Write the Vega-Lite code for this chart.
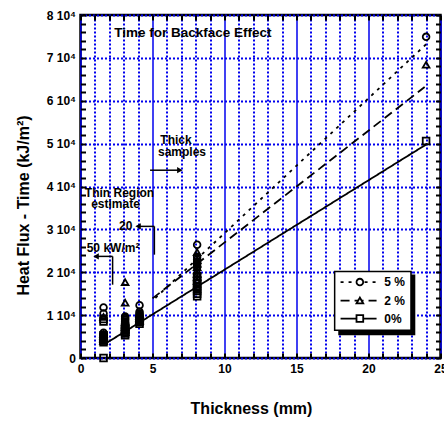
{
  "$schema": "https://vega.github.io/schema/vega-lite/v6.json",
  "width": 360,
  "height": 343,
  "autosize": {"type": "none"},
  "padding": {"left": 80.5, "top": 15, "right": 3.5, "bottom": 64},
  "background": "white",
  "config": {
    "font": "Liberation Sans",
    "view": {"stroke": "black", "strokeWidth": 2.5},
    "axis": {
      "labelFont": "Liberation Sans",
      "labelFontWeight": "bold",
      "labelFontSize": 12,
      "labelColor": "black",
      "titleFont": "Liberation Sans",
      "titleFontWeight": "bold",
      "titleFontSize": 16,
      "titleColor": "black",
      "tickColor": "black",
      "tickWidth": 2,
      "domain": false,
      "labelOverlap": false,
      "labelFlush": false
    }
  },
  "datasets": {
    "points": [
      {"series": "5 %", "thickness": 1.6, "flux": 11800},
      {"series": "5 %", "thickness": 1.6, "flux": 10400},
      {"series": "5 %", "thickness": 1.6, "flux": 5900},
      {"series": "5 %", "thickness": 1.6, "flux": 5500},
      {"series": "5 %", "thickness": 1.6, "flux": 5100},
      {"series": "5 %", "thickness": 1.6, "flux": 4700},
      {"series": "5 %", "thickness": 1.6, "flux": 4300},
      {"series": "5 %", "thickness": 3.1, "flux": 9700},
      {"series": "5 %", "thickness": 3.1, "flux": 9300},
      {"series": "5 %", "thickness": 3.1, "flux": 8900},
      {"series": "5 %", "thickness": 3.1, "flux": 8500},
      {"series": "5 %", "thickness": 3.1, "flux": 8100},
      {"series": "5 %", "thickness": 3.1, "flux": 7700},
      {"series": "5 %", "thickness": 4.1, "flux": 12300},
      {"series": "5 %", "thickness": 4.1, "flux": 10800},
      {"series": "5 %", "thickness": 4.1, "flux": 10400},
      {"series": "5 %", "thickness": 4.1, "flux": 10000},
      {"series": "5 %", "thickness": 4.1, "flux": 9600},
      {"series": "5 %", "thickness": 8.1, "flux": 26400},
      {"series": "5 %", "thickness": 8.1, "flux": 23600},
      {"series": "5 %", "thickness": 8.1, "flux": 23000},
      {"series": "5 %", "thickness": 8.1, "flux": 22400},
      {"series": "5 %", "thickness": 8.1, "flux": 21800},
      {"series": "5 %", "thickness": 8.1, "flux": 21200},
      {"series": "5 %", "thickness": 24, "flux": 74900},
      {"series": "2 %", "thickness": 1.6, "flux": 9600},
      {"series": "2 %", "thickness": 1.6, "flux": 5600},
      {"series": "2 %", "thickness": 1.6, "flux": 5200},
      {"series": "2 %", "thickness": 1.6, "flux": 4800},
      {"series": "2 %", "thickness": 1.6, "flux": 4400},
      {"series": "2 %", "thickness": 1.6, "flux": 4000},
      {"series": "2 %", "thickness": 3.1, "flux": 17700},
      {"series": "2 %", "thickness": 3.1, "flux": 12900},
      {"series": "2 %", "thickness": 3.1, "flux": 8400},
      {"series": "2 %", "thickness": 3.1, "flux": 8000},
      {"series": "2 %", "thickness": 3.1, "flux": 7600},
      {"series": "2 %", "thickness": 3.1, "flux": 7200},
      {"series": "2 %", "thickness": 3.1, "flux": 6800},
      {"series": "2 %", "thickness": 3.1, "flux": 6400},
      {"series": "2 %", "thickness": 3.1, "flux": 6000},
      {"series": "2 %", "thickness": 4.1, "flux": 10200},
      {"series": "2 %", "thickness": 4.1, "flux": 9800},
      {"series": "2 %", "thickness": 4.1, "flux": 9400},
      {"series": "2 %", "thickness": 4.1, "flux": 9000},
      {"series": "2 %", "thickness": 4.1, "flux": 8600},
      {"series": "2 %", "thickness": 8.1, "flux": 24700},
      {"series": "2 %", "thickness": 8.1, "flux": 22800},
      {"series": "2 %", "thickness": 8.1, "flux": 22000},
      {"series": "2 %", "thickness": 8.1, "flux": 21200},
      {"series": "2 %", "thickness": 8.1, "flux": 20400},
      {"series": "2 %", "thickness": 8.1, "flux": 19600},
      {"series": "2 %", "thickness": 8.1, "flux": 18800},
      {"series": "2 %", "thickness": 8.1, "flux": 18000},
      {"series": "2 %", "thickness": 24, "flux": 68400},
      {"series": "0%", "thickness": 1.6, "flux": 9100},
      {"series": "0%", "thickness": 1.6, "flux": 8500},
      {"series": "0%", "thickness": 1.6, "flux": 5300},
      {"series": "0%", "thickness": 1.6, "flux": 4900},
      {"series": "0%", "thickness": 1.6, "flux": 4500},
      {"series": "0%", "thickness": 1.6, "flux": 4100},
      {"series": "0%", "thickness": 1.6, "flux": 3700},
      {"series": "0%", "thickness": 1.6, "flux": 0},
      {"series": "0%", "thickness": 3.1, "flux": 7300},
      {"series": "0%", "thickness": 3.1, "flux": 6900},
      {"series": "0%", "thickness": 3.1, "flux": 6500},
      {"series": "0%", "thickness": 3.1, "flux": 6100},
      {"series": "0%", "thickness": 3.1, "flux": 5700},
      {"series": "0%", "thickness": 3.1, "flux": 5300},
      {"series": "0%", "thickness": 4.1, "flux": 9200},
      {"series": "0%", "thickness": 4.1, "flux": 8800},
      {"series": "0%", "thickness": 4.1, "flux": 8400},
      {"series": "0%", "thickness": 4.1, "flux": 8000},
      {"series": "0%", "thickness": 8.1, "flux": 19000},
      {"series": "0%", "thickness": 8.1, "flux": 18200},
      {"series": "0%", "thickness": 8.1, "flux": 17400},
      {"series": "0%", "thickness": 8.1, "flux": 16800},
      {"series": "0%", "thickness": 8.1, "flux": 16200},
      {"series": "0%", "thickness": 8.1, "flux": 15600},
      {"series": "0%", "thickness": 8.1, "flux": 15000},
      {"series": "0%", "thickness": 8.1, "flux": 14400},
      {"series": "0%", "thickness": 24, "flux": 50600}
    ],
    "fits": [
      {"series": "5 %", "thickness": 5.2, "flux": 14000},
      {"series": "5 %", "thickness": 24.04, "flux": 73300},
      {"series": "2 %", "thickness": 5.0, "flux": 13900},
      {"series": "2 %", "thickness": 23.9, "flux": 63200},
      {"series": "0%", "thickness": 1.9, "flux": 3700},
      {"series": "0%", "thickness": 24.1, "flux": 50000}
    ],
    "title_note": [
      {"label": "Time for Backface Effect", "thickness": 7.8, "flux": 75700}
    ],
    "notes": [
      {"label": "Thick", "thickness": 6.63, "flux": 50800},
      {"label": "samples", "thickness": 7.05, "flux": 48000},
      {"label": "Thin Region", "thickness": 2.71, "flux": 38600},
      {"label": "estimate", "thickness": 2.43, "flux": 36000},
      {"label": "20", "thickness": 3.14, "flux": 30700},
      {"label": "50 kW/m²", "thickness": 2.26, "flux": 25700}
    ],
    "arrows": [
      {"x1": 4.83, "x2": 6.9, "y1": 43800, "y2": 43800},
      {"x1": 5.13, "x2": 4.0, "y1": 30700, "y2": 30700},
      {"x1": 5.13, "x2": 5.13, "y1": 24100, "y2": 30700},
      {"x1": 2.23, "x2": 1.08, "y1": 23700, "y2": 23700},
      {"x1": 2.23, "x2": 2.23, "y1": 17100, "y2": 23700}
    ],
    "heads": [
      {"dir": "right", "thickness": 6.9, "flux": 43800},
      {"dir": "left", "thickness": 4.0, "flux": 30700},
      {"dir": "left", "thickness": 1.08, "flux": 23700}
    ],
    "legendbox": [
      {"kind": "shadow", "x1": 17.9, "x2": 23.25, "y1": 5300, "y2": 19500},
      {"kind": "box", "x1": 17.65, "x2": 22.95, "y1": 6460, "y2": 20200}
    ],
    "legend": [
      {"series": "5 %", "x1": 18.06, "x2": 20.56, "xm": 19.4, "xt": 21.1, "y": 17700},
      {"series": "2 %", "x1": 18.06, "x2": 20.56, "xm": 19.4, "xt": 21.1, "y": 13400},
      {"series": "0%", "x1": 18.06, "x2": 20.56, "xm": 19.4, "xt": 21.1, "y": 9200}
    ]
  },
  "layer": [
    {
      "data": {"name": "points"},
      "mark": {"type": "point", "filled": false, "stroke": "black", "strokeWidth": 1.8, "size": 45, "opacity": 1},
      "encoding": {
        "x": {
          "field": "thickness", "type": "quantitative",
          "scale": {"domain": [0, 25], "nice": false, "zero": false},
          "axis": {
            "orient": "bottom",
            "values": [0,1,2,3,4,5,6,7,8,9,10,11,12,13,14,15,16,17,18,19,20,21,22,23,24,25],
            "labelExpr": "datum.value % 5 === 0 ? datum.label : ''",
            "tickSize": -5,
            "labelPadding": 10,
            "grid": true,
            "gridColor": "#0000ee",
            "gridDash": {"condition": {"test": "datum.value % 5 === 0", "value": []}, "value": [2, 2]},
            "gridWidth": {"condition": {"test": "datum.value % 5 === 0", "value": 1.5}, "value": 2},
            "title": "Thickness (mm)",
            "titleX": 170.5,
            "titleY": 50,
            "titleBaseline": "middle",
            "titleAlign": "center"
          }
        },
        "y": {
          "field": "flux", "type": "quantitative",
          "scale": {"domain": [0, 80000], "nice": false, "zero": false},
          "axis": {
            "orient": "left",
            "values": [0,2000,4000,6000,8000,10000,12000,14000,16000,18000,20000,22000,24000,26000,28000,30000,32000,34000,36000,38000,40000,42000,44000,46000,48000,50000,52000,54000,56000,58000,60000,62000,64000,66000,68000,70000,72000,74000,76000,78000,80000],
            "labelExpr": "datum.value % 10000 !== 0 ? '' : (datum.value === 0 ? '0' : (datum.value / 10000) + ' 10⁴')",
            "tickSize": -5,
            "labelPadding": 10,
            "grid": true,
            "gridColor": "#0000ee",
            "gridDash": [2, 2],
            "gridWidth": 2,
            "gridOpacity": {"condition": {"test": "datum.value % 10000 === 0", "value": 1}, "value": 0},
            "title": "Heat Flux - Time  (kJ/m²)",
            "titleX": -57,
            "titleY": 190,
            "titleAngle": -90,
            "titleBaseline": "middle",
            "titleAlign": "center"
          }
        },
        "shape": {
          "field": "series", "type": "nominal",
          "scale": {"domain": ["5 %", "2 %", "0%"], "range": ["circle", "triangle-up", "square"]},
          "legend": null
        }
      }
    },
    {
      "data": {"name": "fits"},
      "mark": {"type": "line", "color": "black", "strokeWidth": 1.8},
      "encoding": {
        "x": {
          "field": "thickness", "type": "quantitative",
          "axis": {
            "orient": "top",
            "values": [0,1,2,3,4,5,6,7,8,9,10,11,12,13,14,15,16,17,18,19,20,21,22,23,24,25],
            "labels": false, "grid": false, "title": null,
            "tickSize": -5
          }
        },
        "y": {
          "field": "flux", "type": "quantitative",
          "axis": {
            "orient": "right",
            "values": [0,2000,4000,6000,8000,10000,12000,14000,16000,18000,20000,22000,24000,26000,28000,30000,32000,34000,36000,38000,40000,42000,44000,46000,48000,50000,52000,54000,56000,58000,60000,62000,64000,66000,68000,70000,72000,74000,76000,78000,80000],
            "labels": false, "grid": false, "title": null,
            "tickSize": -5
          }
        },
        "detail": {"field": "series"},
        "strokeDash": {
          "field": "series", "type": "nominal",
          "scale": {"domain": ["5 %", "2 %", "0%"], "range": [[3, 5], [9, 5], [1, 0]]},
          "legend": null
        }
      }
    },
    {
      "data": {"name": "arrows"},
      "mark": {"type": "rule", "color": "black", "strokeWidth": 1.5},
      "encoding": {
        "x": {"field": "x1", "type": "quantitative", "axis": null},
        "x2": {"field": "x2"},
        "y": {"field": "y1", "type": "quantitative", "axis": null},
        "y2": {"field": "y2"}
      }
    },
    {
      "data": {"name": "heads"},
      "transform": [{"filter": "datum.dir === 'right'"}],
      "mark": {"type": "point", "shape": "triangle-right", "filled": true, "color": "black", "size": 40, "opacity": 1},
      "encoding": {
        "x": {"field": "thickness", "type": "quantitative", "axis": null},
        "y": {"field": "flux", "type": "quantitative", "axis": null}
      }
    },
    {
      "data": {"name": "heads"},
      "transform": [{"filter": "datum.dir === 'left'"}],
      "mark": {"type": "point", "shape": "triangle-left", "filled": true, "color": "black", "size": 40, "opacity": 1},
      "encoding": {
        "x": {"field": "thickness", "type": "quantitative", "axis": null},
        "y": {"field": "flux", "type": "quantitative", "axis": null}
      }
    },
    {
      "data": {"name": "title_note"},
      "mark": {"type": "text", "font": "Liberation Sans", "fontWeight": "bold", "fontSize": 13.5, "color": "black", "align": "center", "baseline": "middle"},
      "encoding": {
        "x": {"field": "thickness", "type": "quantitative", "axis": null},
        "y": {"field": "flux", "type": "quantitative", "axis": null},
        "text": {"field": "label"}
      }
    },
    {
      "data": {"name": "notes"},
      "mark": {"type": "text", "font": "Liberation Sans", "fontWeight": "bold", "fontSize": 12, "color": "black", "align": "center", "baseline": "middle"},
      "encoding": {
        "x": {"field": "thickness", "type": "quantitative", "axis": null},
        "y": {"field": "flux", "type": "quantitative", "axis": null},
        "text": {"field": "label"}
      }
    },
    {
      "data": {"name": "legendbox"},
      "transform": [{"filter": "datum.kind === 'shadow'"}],
      "mark": {"type": "rect", "fill": "black"},
      "encoding": {
        "x": {"field": "x1", "type": "quantitative", "axis": null},
        "x2": {"field": "x2"},
        "y": {"field": "y1", "type": "quantitative", "axis": null},
        "y2": {"field": "y2"}
      }
    },
    {
      "data": {"name": "legendbox"},
      "transform": [{"filter": "datum.kind === 'box'"}],
      "mark": {"type": "rect", "fill": "white", "stroke": "black", "strokeWidth": 1.5},
      "encoding": {
        "x": {"field": "x1", "type": "quantitative", "axis": null},
        "x2": {"field": "x2"},
        "y": {"field": "y1", "type": "quantitative", "axis": null},
        "y2": {"field": "y2"}
      }
    },
    {
      "data": {"name": "legend"},
      "mark": {"type": "rule", "color": "black", "strokeWidth": 1.8},
      "encoding": {
        "x": {"field": "x1", "type": "quantitative", "axis": null},
        "x2": {"field": "x2"},
        "y": {"field": "y", "type": "quantitative", "axis": null},
        "strokeDash": {"field": "series", "type": "nominal", "legend": null}
      }
    },
    {
      "data": {"name": "legend"},
      "mark": {"type": "point", "filled": false, "fill": "white", "fillOpacity": 1, "stroke": "black", "strokeWidth": 1.8, "size": 45, "opacity": 1},
      "encoding": {
        "x": {"field": "xm", "type": "quantitative", "axis": null},
        "y": {"field": "y", "type": "quantitative", "axis": null},
        "shape": {"field": "series", "type": "nominal", "legend": null}
      }
    },
    {
      "data": {"name": "legend"},
      "mark": {"type": "text", "font": "Liberation Sans", "fontWeight": "bold", "fontSize": 12, "color": "black", "align": "left", "baseline": "middle"},
      "encoding": {
        "x": {"field": "xt", "type": "quantitative", "axis": null},
        "y": {"field": "y", "type": "quantitative", "axis": null},
        "text": {"field": "series"}
      }
    }
  ],
  "resolve": {"axis": {"x": "independent", "y": "independent"}}
}
